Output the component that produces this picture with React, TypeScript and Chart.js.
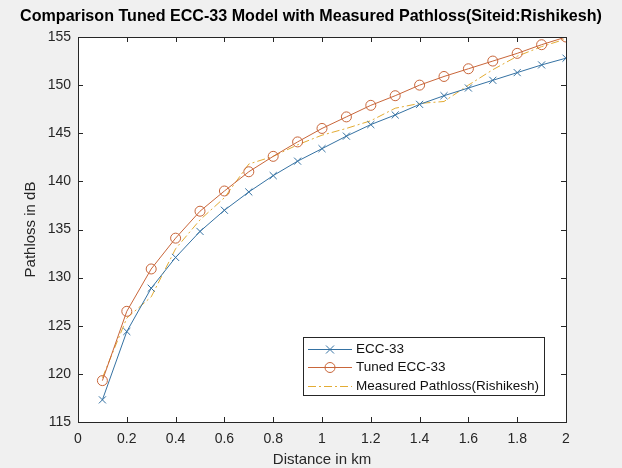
import { useEffect, useRef } from "react";
import { Chart, registerables } from "chart.js";

Chart.register(...registerables);

const distances = [0.1, 0.2, 0.3, 0.4, 0.5, 0.6, 0.7, 0.8, 0.9, 1.0, 1.1, 1.2, 1.3, 1.4, 1.5, 1.6, 1.7, 1.8, 1.9, 2.0];
const ecc33 = [117.3, 124.4, 128.9, 132.1, 134.8, 137.0, 138.9, 140.6, 142.1, 143.4, 144.7, 145.9, 146.9, 148.0, 148.9, 149.7, 150.5, 151.3, 152.1, 152.8];
const tunedEcc33 = [119.3, 126.5, 130.9, 134.1, 136.9, 139.0, 141.0, 142.6, 144.1, 145.5, 146.7, 147.9, 148.9, 150.0, 150.9, 151.7, 152.5, 153.3, 154.2, 155.0];
const measured = [119.6, 125.8, 128.0, 133.0, 136.0, 138.3, 141.8, 142.6, 143.8, 144.8, 145.5, 146.3, 147.6, 148.1, 148.3, 150.0, 151.6, 153.0, 154.0, 154.8];
const xTickValues = [0, 0.2, 0.4, 0.6, 0.8, 1, 1.2, 1.4, 1.6, 1.8, 2];
const yTickValues = [115, 120, 125, 130, 135, 140, 145, 150, 155];
const seriesNames = ["ECC-33", "Tuned ECC-33", "Measured Pathloss(Rishikesh)"];
const chartTitle = "Comparison Tuned ECC-33 Model with Measured Pathloss(Siteid:Rishikesh)";

const FONT = "'Liberation Sans', Arial, Helvetica, sans-serif";
const AXIS_COLOR = "#262626";
const BLUE = "#3572a3";
const ORANGE = "#c9663a";
const YELLOW = "#e3ac34";

const bgPlugin = {
  id: "bgPlugin",
  beforeDraw(chart: any) {
    const { ctx, chartArea, width, height } = chart;
    ctx.save();
    ctx.fillStyle = "#f0f0f0";
    ctx.fillRect(0, 0, width, height);
    ctx.fillStyle = "#ffffff";
    ctx.fillRect(chartArea.left, chartArea.top, chartArea.right - chartArea.left, chartArea.bottom - chartArea.top);
    ctx.fillStyle = "#000000";
    ctx.font = `bold 16.1px ${FONT}`;
    ctx.textAlign = "center";
    ctx.textBaseline = "middle";
    ctx.fillText(chartTitle, width / 2, 17);
    ctx.restore();
  },
};

const boxPlugin = {
  id: "boxPlugin",
  afterDatasetsDraw(chart: any) {
    const { ctx, chartArea, scales } = chart;
    const { left, right, top, bottom } = chartArea;
    const tl = 5;
    ctx.save();
    ctx.strokeStyle = AXIS_COLOR;
    ctx.lineWidth = 1;
    ctx.beginPath();
    xTickValues.forEach((v) => {
      const px = Math.round(scales.x.getPixelForValue(v)) + 0.5;
      ctx.moveTo(px, bottom);
      ctx.lineTo(px, bottom - tl);
      ctx.moveTo(px, top);
      ctx.lineTo(px, top + tl);
    });
    yTickValues.forEach((v) => {
      const py = Math.round(scales.y.getPixelForValue(v)) + 0.5;
      ctx.moveTo(left, py);
      ctx.lineTo(left + tl, py);
      ctx.moveTo(right, py);
      ctx.lineTo(right - tl, py);
    });
    ctx.stroke();
    ctx.strokeRect(Math.round(left) + 0.5, Math.round(top) + 0.5, Math.round(right - left), Math.round(bottom - top));
    ctx.restore();
  },
};

const legendPlugin = {
  id: "insideLegend",
  afterDraw(chart: any) {
    const { ctx, chartArea } = chart;
    const w = 241;
    const h = 58;
    const x0 = Math.round(chartArea.right - 22 - w);
    const y0 = Math.round(chartArea.bottom - 27 - h);
    ctx.save();
    ctx.fillStyle = "#ffffff";
    ctx.fillRect(x0, y0, w, h);
    ctx.strokeStyle = AXIS_COLOR;
    ctx.lineWidth = 1;
    ctx.strokeRect(x0 + 0.5, y0 + 0.5, w, h);
    chart.data.datasets.forEach((ds: any, i: number) => {
      const cy = Math.round(y0 + 11.5 + i * 18.9) + 0.5;
      ctx.strokeStyle = ds.borderColor;
      ctx.lineWidth = 1;
      ctx.setLineDash(ds.borderDash || []);
      ctx.beginPath();
      ctx.moveTo(x0 + 5, cy);
      ctx.lineTo(x0 + 49, cy);
      ctx.stroke();
      ctx.setLineDash([]);
      const mx = x0 + 27;
      if (ds.pointStyle === "crossRot") {
        const r = 4;
        ctx.beginPath();
        ctx.moveTo(mx - r, cy - r);
        ctx.lineTo(mx + r, cy + r);
        ctx.moveTo(mx - r, cy + r);
        ctx.lineTo(mx + r, cy - r);
        ctx.stroke();
      } else if (ds.pointStyle === "circle" && ds.pointRadius > 0) {
        ctx.beginPath();
        ctx.arc(mx, cy, 5, 0, Math.PI * 2);
        ctx.stroke();
      }
      ctx.fillStyle = "#111111";
      ctx.font = `13.5px ${FONT}`;
      ctx.textAlign = "left";
      ctx.textBaseline = "middle";
      ctx.fillText(ds.label, x0 + 53, cy);
    });
    ctx.restore();
  },
};

export default function App() {
  const canvasRef = useRef<HTMLCanvasElement | null>(null);

  useEffect(() => {
    if (!canvasRef.current) return;
    const toPoints = (ys: number[]) => distances.map((x, i) => ({ x, y: ys[i] }));
    const chart = new Chart(canvasRef.current, {
      type: "line",
      data: {
        datasets: [
          {
            label: seriesNames[0],
            data: toPoints(ecc33),
            borderColor: BLUE,
            backgroundColor: "transparent",
            borderWidth: 1,
            pointStyle: "crossRot",
            pointRadius: 5,
            pointBorderColor: BLUE,
            pointBorderWidth: 1,
            tension: 0,
          },
          {
            label: seriesNames[1],
            data: toPoints(tunedEcc33),
            borderColor: ORANGE,
            backgroundColor: "transparent",
            borderWidth: 1,
            pointStyle: "circle",
            pointRadius: 5,
            pointBorderColor: ORANGE,
            pointBackgroundColor: "transparent",
            pointBorderWidth: 1,
            tension: 0,
          },
          {
            label: seriesNames[2],
            data: toPoints(measured),
            borderColor: YELLOW,
            backgroundColor: "transparent",
            borderWidth: 1,
            borderDash: [8, 3, 2, 3],
            pointRadius: 0,
            tension: 0,
          },
        ],
      } as any,
      options: {
        responsive: false,
        animation: false,
        layout: { padding: { left: 0, right: 56, top: 37, bottom: 0 } },
        plugins: {
          legend: { display: false },
          tooltip: { enabled: false },
          title: { display: false },
        },
        scales: {
          x: {
            type: "linear",
            min: 0,
            max: 2,
            grid: { display: false, drawTicks: false },
            border: { display: false },
            afterBuildTicks: (scale: any) => {
              scale.ticks = xTickValues.map((v) => ({ value: v }));
            },
            afterFit: (scale: any) => {
              scale.height = 46;
            },
            ticks: {
              color: AXIS_COLOR,
              font: { family: FONT, size: 14 },
              padding: 9,
              maxRotation: 0,
              autoSkip: false,
              callback: (v: any) => String(Number(Number(v).toFixed(1))),
            },
            title: {
              display: true,
              text: "Distance in km",
              color: AXIS_COLOR,
              font: { family: FONT, size: 15 },
              padding: { top: 0, bottom: -1 },
            },
          },
          y: {
            type: "linear",
            min: 115,
            max: 155,
            grid: { display: false, drawTicks: false },
            border: { display: false },
            afterBuildTicks: (scale: any) => {
              scale.ticks = yTickValues.map((v) => ({ value: v }));
            },
            afterFit: (scale: any) => {
              scale.width = 78;
            },
            ticks: {
              color: AXIS_COLOR,
              font: { family: FONT, size: 14 },
              padding: 7,
              autoSkip: false,
              callback: (v: any) => String(v),
            },
            title: {
              display: true,
              text: "Pathloss in dB",
              color: AXIS_COLOR,
              font: { family: FONT, size: 15 },
              padding: { top: 22, bottom: 0 },
            },
          },
        },
      } as any,
      plugins: [bgPlugin, boxPlugin, legendPlugin],
    });
    return () => chart.destroy();
  }, []);

  return (
    <div style={{ position: "absolute", left: 0, top: 0, width: 622, height: 468, background: "#f0f0f0" }}>
      <canvas ref={canvasRef} width={622} height={468} style={{ display: "block" }} />
    </div>
  );
}
